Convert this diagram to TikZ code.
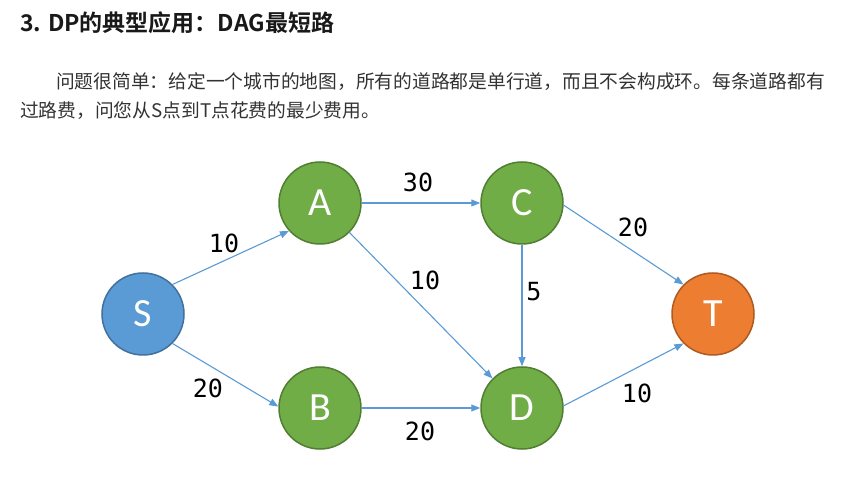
\documentclass[tikz,border=0pt]{standalone}
\usepackage{fontspec}
\usetikzlibrary{arrows.meta}
\newfontfamily\cjk{Noto Sans CJK SC}
\newfontfamily\cjkb{Noto Sans CJK SC Bold}
\newfontfamily\nodefont{Carlito}
\newfontfamily\monof{DejaVu Sans Mono}
\definecolor{gfill}{HTML}{70AD47}
\definecolor{gline}{HTML}{507E32}
\definecolor{bfill}{HTML}{5B9BD5}
\definecolor{bline}{HTML}{41719C}
\definecolor{ofill}{HTML}{ED7D31}
\definecolor{oline}{HTML}{AE5A21}
\definecolor{edgec}{HTML}{5B9BD5}
\definecolor{txt}{HTML}{333333}
\tikzset{
  vtx/.style={circle, minimum size=82pt, inner sep=0pt, line width=1.5pt,
    text=white, font=\nodefont\fontsize{40}{40}\selectfont},
  gvtx/.style={vtx, fill=gfill, draw=gline},
  bvtx/.style={vtx, fill=bfill, draw=bline},
  ovtx/.style={vtx, fill=ofill, draw=oline},
  edge/.style={draw=edgec, line width=1.1pt, -{Triangle[length=9pt,width=7pt]}},
  wlab/.style={font=\monof\fontsize{25}{25}\selectfont, text=black, inner sep=0pt},
  para/.style={anchor=base west, inner sep=0pt, text=txt, font=\cjk\fontsize{18.75}{18.75}\selectfont}
}
\begin{document}
\begin{tikzpicture}[x=1pt, y=-1pt]
\useasboundingbox (0,0) rectangle (855,478);
\fill[white] (0,0) rectangle (855,478);
% text
\node[anchor=base west, inner sep=0pt, text=black!90, font=\cjkb\fontsize{23}{23}\selectfont] (title) at (20,32) {3. DP的典型应用：DAG最短路};
\node[para] (p1) at (56,89) {问题很简单：给定一个城市的地图，所有的道路都是单行道，而且不会构成环。每条道路都有};
\node[para] (p2) at (20,118) {过路费，问您从S点到T点花费的最少费用。};
% vertices
\node[bvtx] (S) at (143,314) {S};
\node[gvtx] (A) at (320,203) {A};
\node[gvtx] (C) at (522,203) {C};
\node[gvtx] (B) at (320,408) {B};
\node[gvtx] (D) at (522,408) {D};
\node[ovtx] (T) at (713,314) {T};
% edges
\draw[edge] (S.45) -- (A.222);
\draw[edge] (S.-45) -- (B.178);
\draw[edge] (A.east) -- (C.west);
\draw[edge] (A.-45) -- (D.135);
\draw[edge] (C.south) -- (D.north);
\draw[edge] (C.-3) -- (T.135);
\draw[edge] (B.east) -- (D.west);
\draw[edge] (D.3) -- (T.-135);
% weights
\node[wlab] (w1) at (224,243) {10};
\node[wlab] (w2) at (418,182) {30};
\node[wlab] (w3) at (633,227) {20};
\node[wlab] (w4) at (425,280) {10};
\node[wlab] (w5) at (534,292) {5};
\node[wlab] (w6) at (208,388) {20};
\node[wlab] (w7) at (420,431) {20};
\node[wlab] (w8) at (637,393) {10};
\end{tikzpicture}
\end{document}
